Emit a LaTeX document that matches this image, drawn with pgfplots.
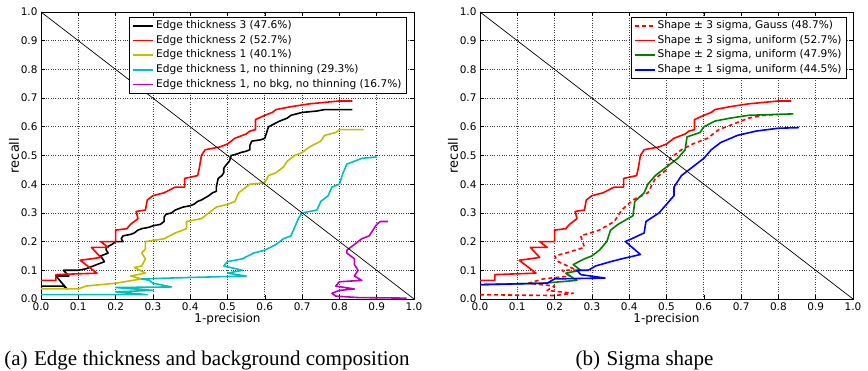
\documentclass[border=0pt]{standalone}
\usepackage{fontspec}
\setmainfont{DejaVu Sans}
\newfontfamily\capfont{Liberation Serif}
\usepackage{pgfplots}
\pgfplotsset{compat=1.18}
\definecolor{mplred}{RGB}{255,0,0}
\definecolor{mplyel}{RGB}{191,191,0}
\definecolor{mplcyan}{RGB}{0,191,191}
\definecolor{mplmag}{RGB}{191,0,191}
\definecolor{mplgreen}{RGB}{0,128,0}
\definecolor{mplblue}{RGB}{0,0,255}
\pgfplotsset{
  prstyle/.style={
    scale only axis, width=373pt, height=287pt,
    xmin=0, xmax=1, ymin=0, ymax=1,
    xtick={0,0.1,0.2,0.3,0.4,0.5,0.6,0.7,0.8,0.9,1},
    ytick={0,0.1,0.2,0.3,0.4,0.5,0.6,0.7,0.8,0.9,1},
    /pgf/number format/assume math mode=true,
    /pgf/number format/.cd, fixed, fixed zerofill, precision=1, /pgfplots/.cd,
    tick label style={font=\fontsize{10.5}{12}\selectfont},
    xticklabel style={yshift=-0.5pt},
    grid=major,
    major grid style={dotted, black!75, line width=0.7pt},
    tick align=inside, major tick length=4pt,
    tick style={black, line width=0.6pt},
    axis line style={black, line width=0.8pt},
    every axis x label/.style={at={(axis description cs:0.5,-0.0836)}, anchor=base, font=\fontsize{12}{14}\selectfont},
    every axis y label/.style={at={(axis description cs:-0.0724,0.5)}, rotate=90, anchor=center, font=\fontsize{13}{15}\selectfont},
    xlabel={1-precision}, ylabel={recall},
    legend cell align=left,
    legend image code/.code={\draw[#1, line width=1.6pt] (0pt,0pt) -- (20pt,0pt);},
    legend style={draw=black, line width=0.8pt, fill=white,
      font=\fontsize{10.6}{12.7}\selectfont, row sep=0pt,
      inner xsep=3pt, inner ysep=1.5pt,
      nodes={inner sep=2pt, text height=8pt, text depth=2.6pt}},
    every axis plot/.append style={line width=1.6pt, line join=round},
  }
}
\begin{document}
\begin{tikzpicture}
\path[use as bounding box] (0,0) rectangle (868pt,371pt);
% ---------------- left panel ----------------
\begin{axis}[prstyle, at={(41pt,72pt)}, anchor=south west,
  legend style={at={(0.981,0.983)}, anchor=north east}]
\addplot[black] coordinates {
(0.0,0.045)(0.06,0.045)(0.07,0.035)(0.04,0.08)(0.075,0.08)(0.06,0.1)(0.1,0.1)(0.12,0.105)(0.13,0.11)(0.14,0.115)(0.15,0.12)(0.17,0.13)(0.165,0.14)(0.16,0.15)(0.18,0.16)(0.175,0.17)(0.175,0.18)(0.19,0.19)(0.2,0.2)(0.22,0.2)(0.215,0.21)(0.22,0.22)(0.24,0.225)(0.25,0.23)(0.26,0.24)(0.27,0.245)(0.29,0.25)(0.3,0.255)(0.32,0.26)(0.33,0.27)(0.33,0.285)(0.335,0.295)(0.35,0.3)(0.36,0.31)(0.38,0.32)(0.4,0.325)(0.41,0.33)(0.42,0.34)(0.43,0.345)(0.45,0.36)(0.46,0.37)(0.47,0.375)(0.47,0.39)(0.475,0.42)(0.485,0.43)(0.49,0.44)(0.49,0.455)(0.495,0.465)(0.505,0.48)(0.51,0.5)(0.525,0.505)(0.535,0.51)(0.55,0.515)(0.56,0.52)(0.56,0.535)(0.565,0.55)(0.59,0.555)(0.6,0.56)(0.605,0.58)(0.61,0.6)(0.625,0.61)(0.64,0.62)(0.66,0.63)(0.67,0.64)(0.7,0.65)(0.74,0.655)(0.76,0.66)(0.835,0.66)};
\addlegendentry{Edge thickness 3 (47.6\%)}
\addplot[mplred] coordinates {
(0.0,0.065)(0.04,0.065)(0.04,0.085)(0.15,0.09)(0.105,0.135)(0.135,0.14)(0.16,0.145)(0.135,0.18)(0.18,0.18)(0.16,0.2)(0.2,0.2)(0.2,0.24)(0.23,0.245)(0.24,0.26)(0.26,0.28)(0.255,0.305)(0.28,0.31)(0.285,0.345)(0.3,0.36)(0.33,0.37)(0.36,0.39)(0.385,0.39)(0.385,0.42)(0.42,0.43)(0.425,0.46)(0.43,0.5)(0.44,0.52)(0.48,0.53)(0.5,0.54)(0.52,0.56)(0.55,0.575)(0.56,0.585)(0.575,0.59)(0.575,0.625)(0.6,0.64)(0.62,0.65)(0.63,0.66)(0.67,0.67)(0.72,0.68)(0.8,0.69)(0.835,0.69)};
\addlegendentry{Edge thickness 2 (52.7\%)}
\addplot[mplyel] coordinates {
(0.0,0.035)(0.1,0.035)(0.12,0.045)(0.2,0.055)(0.27,0.07)(0.24,0.08)(0.28,0.09)(0.25,0.11)(0.27,0.115)(0.28,0.14)(0.27,0.16)(0.28,0.175)(0.28,0.2)(0.33,0.21)(0.36,0.23)(0.39,0.245)(0.39,0.27)(0.43,0.28)(0.45,0.3)(0.47,0.32)(0.5,0.33)(0.52,0.34)(0.53,0.37)(0.55,0.39)(0.56,0.4)(0.6,0.405)(0.61,0.43)(0.63,0.44)(0.65,0.46)(0.66,0.48)(0.68,0.5)(0.7,0.51)(0.72,0.53)(0.75,0.55)(0.76,0.57)(0.79,0.58)(0.8,0.59)(0.865,0.59)};
\addlegendentry{Edge thickness 1 (40.1\%)}
\addplot[mplcyan] coordinates {
(0.0,0.015)(0.285,0.015)(0.2,0.025)(0.3,0.03)(0.2,0.04)(0.35,0.042)(0.3,0.055)(0.29,0.065)(0.27,0.07)(0.4,0.075)(0.55,0.08)(0.5,0.09)(0.54,0.1)(0.49,0.115)(0.5,0.13)(0.54,0.14)(0.57,0.16)(0.6,0.17)(0.63,0.19)(0.65,0.21)(0.67,0.22)(0.68,0.25)(0.69,0.28)(0.7,0.3)(0.74,0.31)(0.75,0.34)(0.77,0.36)(0.78,0.39)(0.8,0.4)(0.81,0.44)(0.82,0.47)(0.84,0.48)(0.86,0.49)(0.9,0.495)};
\addlegendentry{Edge thickness 1, no thinning (29.3\%)}
\addplot[mplmag] coordinates {
(0.98,0.003)(0.85,0.005)(0.79,0.01)(0.78,0.02)(0.8,0.03)(0.84,0.035)(0.79,0.045)(0.8,0.06)(0.86,0.065)(0.84,0.08)(0.85,0.1)(0.84,0.12)(0.84,0.14)(0.82,0.16)(0.82,0.17)(0.84,0.19)(0.86,0.21)(0.88,0.22)(0.89,0.24)(0.9,0.26)(0.91,0.27)(0.93,0.27)};
\addlegendentry{Edge thickness 1, no bkg, no thinning (16.7\%)}
\addplot[black, line width=0.7pt, forget plot] coordinates {(0,1)(1,0)};
\end{axis}
% ---------------- right panel ----------------
\begin{axis}[prstyle, at={(480pt,72pt)}, anchor=south west,
  legend style={at={(0.984,0.983)}, anchor=north east}]
\addplot[mplred, dash pattern=on 4pt off 3pt] coordinates {
(0.0,0.015)(0.2,0.012)(0.25,0.02)(0.18,0.03)(0.2,0.045)(0.13,0.055)(0.17,0.07)(0.24,0.08)(0.22,0.1)(0.26,0.1)(0.21,0.13)(0.2,0.15)(0.23,0.16)(0.28,0.18)(0.27,0.22)(0.32,0.24)(0.36,0.27)(0.38,0.31)(0.41,0.345)(0.45,0.37)(0.47,0.42)(0.5,0.45)(0.51,0.49)(0.54,0.52)(0.57,0.54)(0.61,0.56)(0.64,0.59)(0.68,0.61)(0.72,0.63)(0.76,0.64)(0.8,0.643)};
\addlegendentry{Shape ± 3 sigma, Gauss (48.7\%)}
\addplot[mplred] coordinates {
(0.0,0.065)(0.04,0.065)(0.04,0.085)(0.15,0.09)(0.105,0.135)(0.135,0.14)(0.16,0.145)(0.135,0.18)(0.18,0.18)(0.16,0.2)(0.2,0.2)(0.2,0.24)(0.23,0.245)(0.24,0.26)(0.26,0.28)(0.255,0.305)(0.28,0.31)(0.285,0.345)(0.3,0.36)(0.33,0.37)(0.36,0.39)(0.385,0.39)(0.385,0.42)(0.42,0.43)(0.425,0.46)(0.43,0.5)(0.44,0.52)(0.48,0.53)(0.5,0.54)(0.52,0.56)(0.55,0.575)(0.56,0.585)(0.575,0.59)(0.575,0.625)(0.6,0.64)(0.62,0.65)(0.63,0.66)(0.67,0.67)(0.72,0.68)(0.8,0.69)(0.835,0.69)};
\addlegendentry{Shape ± 3 sigma, uniform (52.7\%)}
\addplot[mplgreen] coordinates {
(0,0.05)(0.17,0.055)(0.26,0.065)(0.23,0.09)(0.27,0.1)(0.25,0.12)(0.28,0.14)(0.3,0.15)(0.32,0.17)(0.34,0.2)(0.35,0.24)(0.37,0.26)(0.41,0.29)(0.415,0.34)(0.44,0.37)(0.45,0.4)(0.47,0.43)(0.5,0.46)(0.53,0.49)(0.55,0.52)(0.555,0.565)(0.59,0.58)(0.6,0.6)(0.63,0.62)(0.67,0.63)(0.72,0.64)(0.84,0.645)};
\addlegendentry{Shape ± 2 sigma, uniform (47.9\%)}
\addplot[mplblue] coordinates {
(0,0.05)(0.18,0.055)(0.2,0.07)(0.335,0.073)(0.27,0.085)(0.26,0.1)(0.29,0.1)(0.31,0.115)(0.35,0.13)(0.38,0.14)(0.43,0.155)(0.39,0.2)(0.44,0.23)(0.445,0.27)(0.48,0.3)(0.5,0.33)(0.52,0.36)(0.52,0.39)(0.54,0.43)(0.57,0.46)(0.6,0.49)(0.62,0.52)(0.645,0.545)(0.69,0.57)(0.74,0.585)(0.8,0.595)(0.855,0.597)};
\addlegendentry{Shape ± 1 sigma, uniform (44.5\%)}
\addplot[black, line width=0.7pt, forget plot] coordinates {(0,1)(1,0)};
\end{axis}
% ---------------- captions ----------------
\node[anchor=base, font=\capfont\fontsize{21}{25}\selectfont] at (207pt,5pt) {(a)\hspace{6.5pt}Edge thickness and background composition};
\node[anchor=base, font=\capfont\fontsize{21}{25}\selectfont] at (644.5pt,5pt) {(b)\hspace{6.5pt}Sigma shape};
\end{tikzpicture}
\end{document}
